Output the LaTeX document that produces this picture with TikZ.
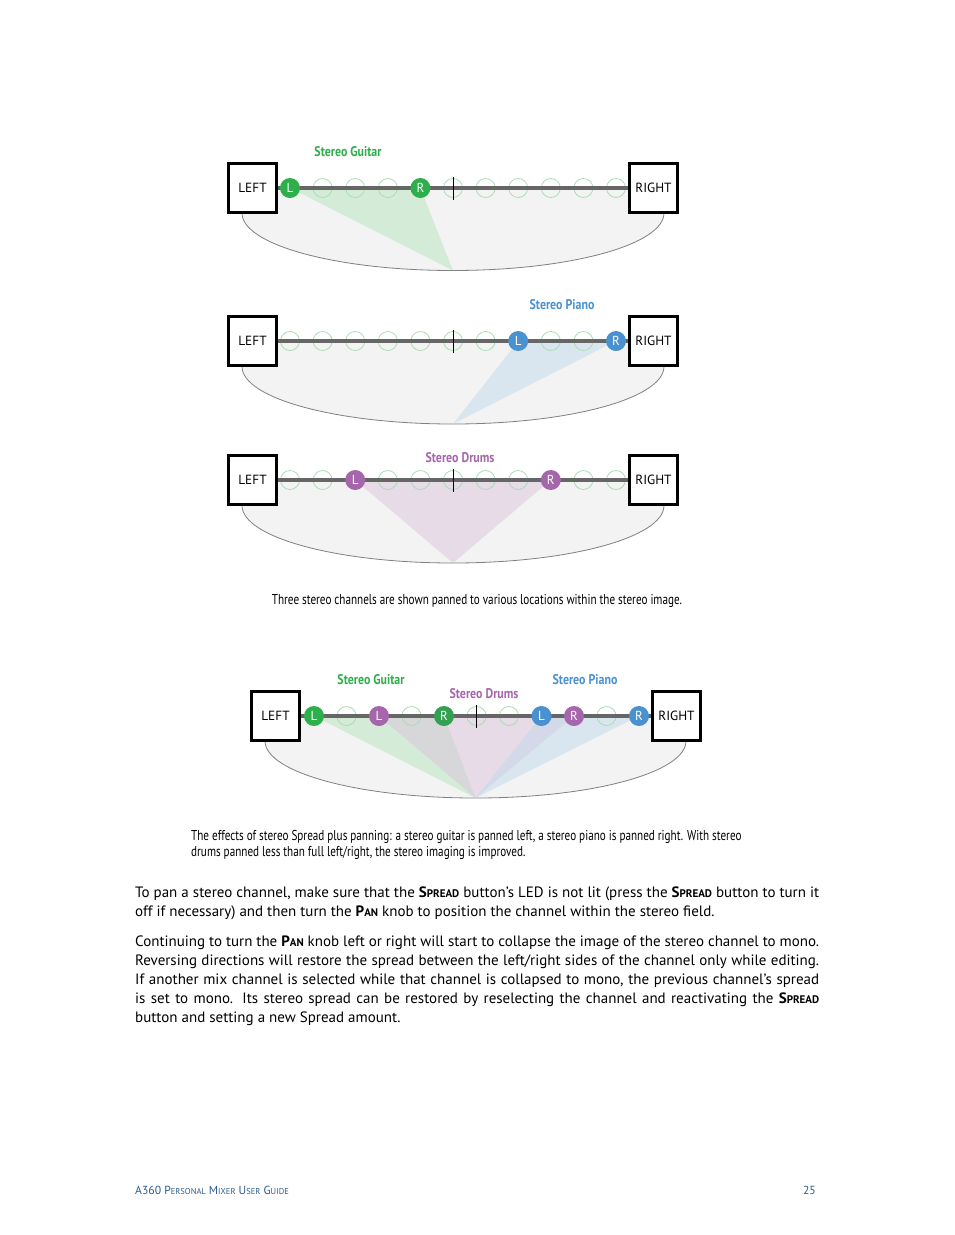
\documentclass[tikz,border=0pt]{standalone}
\usepackage{fontspec}
\setmainfont{PT Sans}
\newfontfamily\narrowfont[FakeStretch=0.78]{PT Sans}
\newfontfamily\tagfont[FakeStretch=0.85]{PT Sans}
\usetikzlibrary{positioning}
\usepackage{xcolor}

\definecolor{guitargreen}{HTML}{2DB04B}
\definecolor{guitardark}{HTML}{34A052}
\definecolor{pianoblue}{HTML}{4A91D0}
\definecolor{drumpurple}{HTML}{A666AB}
\definecolor{ringgreen}{HTML}{AADDB4}
\definecolor{bargray}{HTML}{666666}
\definecolor{bowlgray}{HTML}{F3F3F3}
\definecolor{rimgray}{HTML}{808080}
\definecolor{footblue}{HTML}{2A5C8E}
\definecolor{guitarwash}{HTML}{B7E5BF}
\definecolor{pianowash}{HTML}{C1D9ED}
\definecolor{drumwash}{HTML}{DBC5DB}

\newcommand{\bodysc}[2]{\textbf{#1{\fontsize{11}{11}\selectfont #2}}}
\newcommand{\footsc}[2]{#1{\fontsize{8.5}{8.5}\selectfont #2}}

\begin{document}
\begin{tikzpicture}[
    x=1pt, y=-1pt,
    box/.style={rectangle, draw, line width=2.7pt, fill=white, minimum size=48.5pt, inner sep=0pt, font=\fontsize{13.3}{13.3}\selectfont},
    ring/.style={circle, draw=ringgreen, line width=0.8pt, minimum size=19pt, inner sep=0pt},
    dot/.style={circle, minimum size=20pt, inner sep=0pt, text=white, font=\fontsize{13}{13}\selectfont},
    bar/.style={draw=bargray, line width=4pt},
    rim/.style={draw=rimgray, line width=0.8pt},
    wash/.style={fill opacity=0.5},
    tick/.style={line width=0.8pt},
    tag/.style={font=\tagfont\bfseries\fontsize{14}{14}\selectfont},
    caption/.style={inner sep=0pt, font=\narrowfont\fontsize{14.3}{16}\selectfont},
    body/.style={text width=684pt, align=justify, inner sep=0pt, font=\fontsize{15}{19}\selectfont}
]
    \useasboundingbox[fill=white] (0,0) rectangle (954,1235);

    % Stereo guitar, panned left
    \coordinate (apex1) at (453,270.5);
    \coordinate (gL1) at (290,188);
    \coordinate (gR1) at (420.4,188);
    \fill[bowlgray] (242,188) -- (664,188) -- (664,213) arc[start angle=0, end angle=180, x radius=211, y radius=57.5] -- cycle;
    \draw[rim] (664,213) arc[start angle=0, end angle=180, x radius=211, y radius=57.5];
    \fill[guitarwash, wash] (gL1) -- (gR1) -- (apex1) -- cycle;
    \foreach \i in {1,2,3,5,6,7,8,9,10}
        \node[ring] (ringa\i) at ({290+32.6*\i},188) {};
    \node[box] (left1) at (252.5,188) {LEFT};
    \node[box] (right1) at (653.5,188) {RIGHT};
    \draw[bar] (left1) -- (right1);
    \node[dot, fill=guitargreen] (dotgL1) at (gL1) {L};
    \node[dot, fill=guitargreen] (dotgR1) at (gR1) {R};
    \draw[tick] (453,177) -- (453,200);
    \node[tag, text=guitargreen] (guitar1) at (348,152) {Stereo Guitar};

    % Stereo piano, panned right
    \coordinate (apex2) at (453,424);
    \coordinate (pL2) at (518.2,341);
    \coordinate (pR2) at (616,341);
    \fill[bowlgray] (242,341) -- (664,341) -- (664,366.5) arc[start angle=0, end angle=180, x radius=211, y radius=57.5] -- cycle;
    \draw[rim] (664,366.5) arc[start angle=0, end angle=180, x radius=211, y radius=57.5];
    \fill[pianowash, wash] (pL2) -- (pR2) -- (apex2) -- cycle;
    \foreach \i in {0,1,2,3,4,5,6,8,9}
        \node[ring] (ringb\i) at ({290+32.6*\i},341) {};
    \node[box] (left2) at (252.5,341) {LEFT};
    \node[box] (right2) at (653.5,341) {RIGHT};
    \draw[bar] (left2) -- (right2);
    \node[dot, fill=pianoblue] (dotpL2) at (pL2) {L};
    \node[dot, fill=pianoblue] (dotpR2) at (pR2) {R};
    \draw[tick] (453,330) -- (453,353);
    \node[tag, text=pianoblue] (piano2) at (562,305) {Stereo Piano};

    % Stereo drums, panned less than full
    \coordinate (apex3) at (453,563);
    \coordinate (dL3) at (355.2,480);
    \coordinate (dR3) at (550.8,480);
    \fill[bowlgray] (242,480) -- (664,480) -- (664,505.5) arc[start angle=0, end angle=180, x radius=211, y radius=57.5] -- cycle;
    \draw[rim] (664,505.5) arc[start angle=0, end angle=180, x radius=211, y radius=57.5];
    \fill[drumwash, wash] (dL3) -- (dR3) -- (apex3) -- cycle;
    \foreach \i in {0,1,3,4,5,6,7,9,10}
        \node[ring] (ringc\i) at ({290+32.6*\i},480) {};
    \node[box] (left3) at (252.5,480) {LEFT};
    \node[box] (right3) at (653.5,480) {RIGHT};
    \draw[bar] (left3) -- (right3);
    \node[dot, fill=drumpurple] (dotdL3) at (dL3) {L};
    \node[dot, fill=drumpurple] (dotdR3) at (dR3) {R};
    \draw[tick] (453,469) -- (453,492);
    \node[tag, text=drumpurple] (drums3) at (460,458) {Stereo Drums};

    \node[caption] (cap1) at (477,601) {Three stereo channels are shown panned to various locations within the stereo image.};

    % All three together
    \coordinate (apex4) at (475.5,798);
    \coordinate (gL4) at (314,716);
    \coordinate (gR4) at (444,716);
    \coordinate (dL4) at (379,716);
    \coordinate (dR4) at (574,716);
    \coordinate (pL4) at (541.5,716);
    \coordinate (pR4) at (639,716);
    \fill[bowlgray] (265,716) -- (686,716) -- (686,741) arc[start angle=0, end angle=180, x radius=210.5, y radius=57] -- cycle;
    \draw[rim] (686,741) arc[start angle=0, end angle=180, x radius=210.5, y radius=57];
    \fill[guitarwash, wash] (gL4) -- (gR4) -- (apex4) -- cycle;
    \fill[drumwash, wash] (dL4) -- (dR4) -- (apex4) -- cycle;
    \fill[pianowash, wash] (pL4) -- (pR4) -- (apex4) -- cycle;
    \foreach \i in {1,3,5,6,9}
        \node[ring] (ringd\i) at ({314+32.5*\i},716) {};
    \node[box] (left4) at (275.5,716) {LEFT};
    \node[box] (right4) at (676.5,716) {RIGHT};
    \draw[bar] (left4) -- (right4);
    \node[dot, fill=guitargreen] (dotgL4) at (gL4) {L};
    \node[dot, fill=guitardark] (dotgR4) at (gR4) {R};
    \node[dot, fill=drumpurple] (dotdL4) at (dL4) {L};
    \node[dot, fill=drumpurple] (dotdR4) at (dR4) {R};
    \node[dot, fill=pianoblue] (dotpL4) at (pL4) {L};
    \node[dot, fill=pianoblue] (dotpR4) at (pR4) {R};
    \draw[tick] (476.5,705) -- (476.5,728);
    \node[tag, text=guitargreen] (guitar4) at (371,680) {Stereo Guitar};
    \node[tag, text=drumpurple] (drums4) at (484,694) {Stereo Drums};
    \node[tag, text=pianoblue] (piano4) at (585,680) {Stereo Piano};

    \node[caption, anchor=north west, align=left] (cap2) at (191,830) {The effects of stereo Spread plus panning: a stereo guitar is panned left, a stereo piano is panned right. With stereo\\drums panned less than full left/right, the stereo imaging is improved.};

    % Body text
    \node[body, anchor=north west] (para1) at (135,887) {To pan a stereo channel, make sure that the \bodysc{S}{PREAD} button’s LED is not lit (press the \bodysc{S}{PREAD} button to turn it\linebreak off if necessary) and then turn the \bodysc{P}{AN} knob to position the channel within the stereo field.};
    \node[body, anchor=north west] (para2) at (135,935.5) {Continuing to turn the \bodysc{P}{AN} knob left or right will start to collapse the image of the stereo channel to mono.\linebreak Reversing directions will restore the spread between the left/right sides of the channel only while editing.\linebreak If another mix channel is selected while that channel is collapsed to mono, the previous channel’s spread\linebreak is set to mono. Its stereo spread can be restored by reselecting the channel and reactivating the \bodysc{S}{PREAD}\linebreak button and setting a new Spread amount.};

    % Footer
    \node[anchor=base west, inner sep=0pt, text=footblue, font=\fontsize{11.7}{11.7}\selectfont] (foot) at (135,1194) {A360 \footsc{P}{ERSONAL} \footsc{M}{IXER} \footsc{U}{SER} \footsc{G}{UIDE}};
    \node[anchor=base east, inner sep=0pt, text=footblue, font=\fontsize{11.7}{11.7}\selectfont] (page) at (816,1194) {25};
\end{tikzpicture}
\end{document}
